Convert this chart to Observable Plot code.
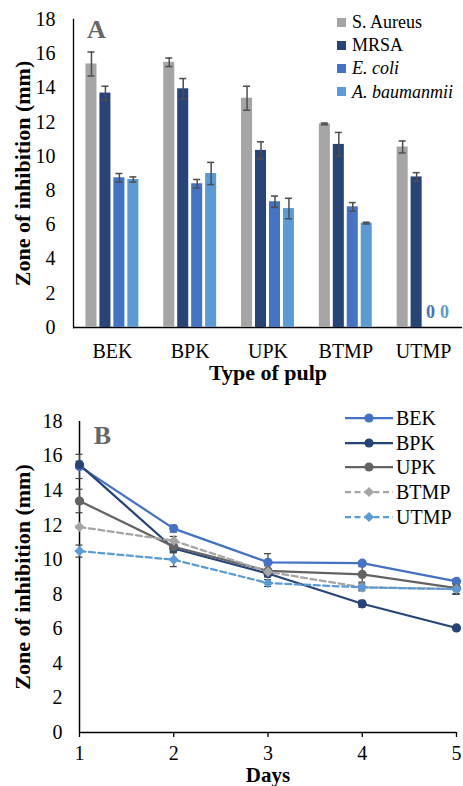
<!DOCTYPE html>
<html>
<head>
<meta charset="utf-8">
<script src="https://cdn.jsdelivr.net/npm/d3@7"></script>
<script src="https://cdn.jsdelivr.net/npm/@observablehq/plot@0.6"></script>
<style>
  html, body { margin: 0; padding: 0; background: #fff; }
  #root { position: relative; width: 463px; height: 786px; font-family: 'Liberation Serif'; }
  .layer { position: absolute; left: 0; }
  .legend { position: absolute; font-size: 18px; color: #000; line-height: 1; font-family: 'Liberation Serif'; }
  .legend .row { position: absolute; display: flex; align-items: center; white-space: nowrap; }
  .legend span { font-family: 'Liberation Serif'; }
</style>
</head>
<body>
<div id="root"></div>
<script>
// ---------- Panel A data ----------
const pulps = ["BEK", "BPK", "UPK", "BTMP", "UTMP"];
const organisms = ["S. Aureus", "MRSA", "E. coli", "A. baumanmii"];
const organismItalic = [false, false, true, true];
const organismColors = ["#A5A5A5", "#264478", "#4472C4", "#5B9BD5"];
const sAureus    = [15.4, 15.5, 13.4, 11.9, 10.55];
const sAureusErr = [0.7, 0.25, 0.7, 0.05, 0.35];
const mrsa       = [13.7, 13.95, 10.35, 10.7, 8.8];
const mrsaErr    = [0.4, 0.6, 0.5, 0.7, 0.25];
const eColi      = [8.75, 8.4, 7.35, 7.05, 0];
const eColiErr   = [0.25, 0.25, 0.33, 0.25, 0];
const aBaum      = [8.65, 9.0, 6.95, 6.1, 0];
const aBaumErr   = [0.15, 0.65, 0.6, 0.05, 0];
const yTicks = [0, 2, 4, 6, 8, 10, 12, 14, 16, 18];
const yLabel = "Zone of inhibition (mm)";
const xLabelA = "Type of pulp";

// ---------- Panel B data ----------
const days = [1, 2, 3, 4, 5];
const seriesNames = ["BEK", "BPK", "UPK", "BTMP", "UTMP"];
const seriesColors = ["#4472C4", "#264478", "#636363", "#A5A5A5", "#5B9BD5"];
const seriesDashed = [false, false, false, true, true];
const seriesSymbols = ["circle", "circle", "circle", "diamond2", "diamond2"];
const bek     = [15.4, 11.8, 9.85, 9.8, 8.75];
const bekErr  = [0.7, 0.2, 0.5, 0.1, 0.15];
const bpk     = [15.5, 10.65, 9.2, 7.45, 6.05];
const bpkErr  = [0.2, 0.2, 0.2, 0.2, 0.1];
const upk     = [13.4, 10.75, 9.35, 9.15, 8.35];
const upkErr  = [0.68, 0.3, 0.3, 0.45, 0.3];
const btmp    = [11.9, 11.1, 9.3, 8.4, 8.3];
const btmpErr = [0.05, 0.25, 0.1, 0.1, 0.3];
const utmp    = [10.5, 10.0, 8.65, 8.4, 8.3];
const utmpErr = [0.35, 0.4, 0.2, 0.2, 0.3];
const xLabelB = "Days";

const FONT = "Liberation Serif";

// ---------- build tables ----------
const aValues = [sAureus, mrsa, eColi, aBaum];
const aErrs = [sAureusErr, mrsaErr, eColiErr, aBaumErr];
const barData = [];
pulps.forEach((p, i) => organisms.forEach((o, j) => {
  barData.push({pulp: p, organism: o, value: aValues[j][i], err: aErrs[j][i]});
}));

const bValues = [bek, bpk, upk, btmp, utmp];
const bErrs = [bekErr, bpkErr, upkErr, btmpErr, utmpErr];
const lineData = [];
seriesNames.forEach((s, j) => days.forEach((d, i) => {
  lineData.push({series: s, day: d, value: bValues[j][i], err: bErrs[j][i], dashed: seriesDashed[j]});
}));

const root = document.getElementById("root");
function place(node, top) {
  node.classList.add("layer");
  node.style.top = top + "px";
  root.appendChild(node);
}

// ---------- Panel A: axes layer ----------
const A = {width: 463, height: 390, marginLeft: 73, marginRight: 1, marginTop: 19, marginBottom: 63};
const styleBase = {fontFamily: FONT, fontSize: "20px", color: "black"};

const axesA = Plot.plot({
  ...A,
  style: styleBase,
  x: {type: "band", domain: pulps, paddingInner: 0.32, paddingOuter: 0.16, round: false},
  y: {domain: [0, 18]},
  marks: [
    Plot.axisY(yTicks, {tickSize: 0, tickPadding: 18, label: null}),
    Plot.axisX({tickSize: 0, tickPadding: 16, label: null}),
    Plot.frame({anchor: "left", stroke: "#000", strokeWidth: 1.3}),
    Plot.ruleY([0], {stroke: "#000", strokeWidth: 1.5}),
    Plot.text([yLabel], {text: d => d, frameAnchor: "left", rotate: -90, textAnchor: "middle", lineAnchor: "middle", dx: -51, fontSize: 22, fontWeight: "bold"}),
    Plot.text([xLabelA], {text: d => d, frameAnchor: "bottom", lineAnchor: "middle", dy: 45, fontSize: 22, fontWeight: "bold"}),
    Plot.text(["A"], {text: d => d, frameAnchor: "top-left", dx: 23, dy: 10, textAnchor: "middle", lineAnchor: "middle", fontSize: 26, fontWeight: "bold", fill: "#666"})
  ]
});
place(axesA, 0);

// ---------- Panel A: bars layer ----------
const errA = barData.filter(d => d.err > 0);
const zeros = barData.filter(d => d.value === 0);
const barsA = Plot.plot({
  ...A,
  style: {...styleBase, background: "none"},
  fx: {domain: pulps, paddingInner: 0.32, paddingOuter: 0.16, round: false, axis: null, label: null},
  x: {domain: organisms, paddingInner: 0.21, paddingOuter: 0, round: false, axis: null},
  y: {domain: [0, 18], axis: null},
  color: {domain: organisms, range: organismColors},
  marks: [
    Plot.barY(barData, {fx: "pulp", x: "organism", y: "value", fill: "organism"}),
    Plot.ruleX(errA, {fx: "pulp", x: "organism", y1: d => d.value - d.err, y2: d => d.value + d.err, stroke: "#4d4d4d", strokeWidth: 1.5}),
    Plot.tickY(errA, {fx: "pulp", x: "organism", y: d => d.value - d.err, stroke: "#4d4d4d", strokeWidth: 1.5, inset: 2}),
    Plot.tickY(errA, {fx: "pulp", x: "organism", y: d => d.value + d.err, stroke: "#4d4d4d", strokeWidth: 1.5, inset: 2}),
    Plot.text(zeros, {fx: "pulp", x: "organism", y: "value", text: d => String(d.value), fill: "organism", dy: -15, fontSize: 18, fontWeight: "bold"})
  ]
});
place(barsA, 0);

// ---------- Panel A legend ----------
const legA = document.createElement("div");
legA.className = "legend";
legA.style.left = "337px";
legA.style.top = "0px";
organisms.forEach((o, j) => {
  const row = document.createElement("div");
  row.className = "row";
  row.style.top = (13 + j * 23.2) + "px";
  const sw = document.createElement("span");
  sw.style.cssText = `display:inline-block;width:9px;height:9px;background:${organismColors[j]};margin-right:6px;`;
  const tx = document.createElement("span");
  tx.textContent = o;
  if (organismItalic[j]) tx.style.fontStyle = "italic";
  row.appendChild(sw); row.appendChild(tx);
  legA.appendChild(row);
});
root.appendChild(legA);

// ---------- Panel B ----------
const B = {width: 463, height: 396, marginLeft: 79, marginRight: 7, marginTop: 31, marginBottom: 54};
const errB = lineData.filter(d => d.err > 0);
const plotB = Plot.plot({
  ...B,
  style: styleBase,
  x: {domain: [1, 5]},
  y: {domain: [0, 18]},
  color: {domain: seriesNames, range: seriesColors},
  symbol: {domain: seriesNames, range: seriesSymbols},
  marks: [
    Plot.axisY(yTicks, {tickSize: 0, tickPadding: 17, label: null}),
    Plot.axisX(days, {tickSize: 5, tickPadding: 8, label: null, tickFormat: d => String(d), stroke: "#000", strokeWidth: 1.3}),
    Plot.ruleX([1], {stroke: "#000", strokeWidth: 1.5}),
    Plot.ruleY([0], {stroke: "#000", strokeWidth: 1.5}),
    Plot.ruleX(errB, {x: "day", y1: d => d.value - d.err, y2: d => d.value + d.err, stroke: "#404040", strokeWidth: 1.2}),
    Plot.ruleY(errB, {x1: "day", x2: "day", y: d => d.value - d.err, insetLeft: -3.5, insetRight: -3.5, stroke: "#404040", strokeWidth: 1.2}),
    Plot.ruleY(errB, {x1: "day", x2: "day", y: d => d.value + d.err, insetLeft: -3.5, insetRight: -3.5, stroke: "#404040", strokeWidth: 1.2}),
    Plot.line(lineData.filter(d => !d.dashed), {x: "day", y: "value", z: "series", stroke: "series", strokeWidth: 2.25}),
    Plot.line(lineData.filter(d => d.dashed), {x: "day", y: "value", z: "series", stroke: "series", strokeWidth: 2.25, strokeDasharray: "6,3.5"}),
    Plot.dot(lineData, {x: "day", y: "value", fill: "series", symbol: "series", r: 4.6}),
    Plot.text([yLabel], {text: d => d, frameAnchor: "left", rotate: -90, textAnchor: "middle", lineAnchor: "middle", dx: -57, fontSize: 22, fontWeight: "bold"}),
    Plot.text([xLabelB], {text: d => d, frameAnchor: "bottom", lineAnchor: "middle", dy: 43, fontSize: 21, fontWeight: "bold"}),
    Plot.text(["B"], {text: d => d, frameAnchor: "top-left", dx: 23, dy: 14, textAnchor: "middle", lineAnchor: "middle", fontSize: 26, fontWeight: "bold", fill: "#666"})
  ]
});
place(plotB, 390);

// ---------- Panel B legend ----------
const legB = document.createElement("div");
legB.className = "legend";
legB.style.left = "345px";
legB.style.top = "0px";
legB.style.fontSize = "20px";
seriesNames.forEach((s, j) => {
  const row = document.createElement("div");
  row.className = "row";
  row.style.top = (406 + j * 24.7) + "px";
  const ns = "http://www.w3.org/2000/svg";
  const svg = document.createElementNS(ns, "svg");
  svg.setAttribute("width", 50); svg.setAttribute("height", 24);
  svg.style.marginRight = "1px";
  const ln = document.createElementNS(ns, "line");
  ln.setAttribute("x1", 0); ln.setAttribute("x2", 48); ln.setAttribute("y1", 12); ln.setAttribute("y2", 12);
  ln.setAttribute("stroke", seriesColors[j]); ln.setAttribute("stroke-width", 2.25);
  if (seriesDashed[j]) ln.setAttribute("stroke-dasharray", "6,3.5");
  svg.appendChild(ln);
  const sym = seriesSymbols[j] === "circle" ? d3.symbolCircle : d3.symbolDiamond2;
  const p = document.createElementNS(ns, "path");
  p.setAttribute("d", d3.symbol(sym, Math.PI * 4.6 * 4.6)());
  p.setAttribute("transform", "translate(24,12)");
  p.setAttribute("fill", seriesColors[j]);
  svg.appendChild(p);
  const tx = document.createElement("span");
  tx.textContent = s;
  row.appendChild(svg); row.appendChild(tx);
  legB.appendChild(row);
});
root.appendChild(legB);
</script>
</body>
</html>
